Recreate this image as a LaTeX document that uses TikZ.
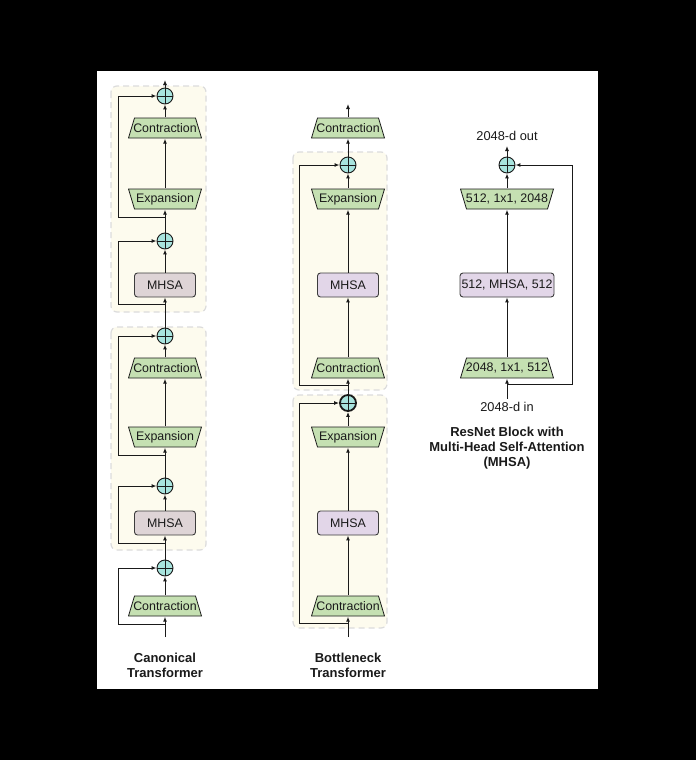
\documentclass[tikz,border=0pt]{standalone}
\usepackage{fontspec}
\setmainfont{Liberation Sans}
\usetikzlibrary{arrows.meta}
\definecolor{trapgreen}{RGB}{197,224,178}
\definecolor{mhsaL}{RGB}{222,212,214}
\definecolor{mhsaM}{RGB}{226,214,232}
\definecolor{pluscyan}{RGB}{168,228,222}
\definecolor{blockfill}{RGB}{253,251,238}
\definecolor{blockdash}{RGB}{220,220,220}
\definecolor{ink}{RGB}{26,26,26}
\begin{document}
\begin{tikzpicture}[x=1pt,y=-1pt,
  txt/.style={font=\fontsize{12.4}{14}\selectfont, text=ink},
  contr/.style={txt, rectangle, minimum width=#1, minimum height=21, inner sep=0pt,
    path picture={\filldraw[fill=trapgreen, draw=ink, line width=0.8pt]
      ([xshift=0.5pt,yshift=0.5pt]path picture bounding box.south west) --
      ([xshift=-0.5pt,yshift=0.5pt]path picture bounding box.south east) --
      ([xshift=-6.5pt,yshift=-0.5pt]path picture bounding box.north east) --
      ([xshift=6.5pt,yshift=-0.5pt]path picture bounding box.north west) -- cycle;}},
  contr/.default=74,
  expan/.style={txt, rectangle, minimum width=#1, minimum height=21, inner sep=0pt,
    path picture={\filldraw[fill=trapgreen, draw=ink, line width=0.8pt]
      ([xshift=6.5pt,yshift=0.5pt]path picture bounding box.south west) --
      ([xshift=-6.5pt,yshift=0.5pt]path picture bounding box.south east) --
      ([xshift=-0.5pt,yshift=-0.5pt]path picture bounding box.north east) --
      ([xshift=0.5pt,yshift=-0.5pt]path picture bounding box.north west) -- cycle;}},
  expan/.default=74,
  mhsabox/.style={txt, rectangle, rounded corners=3pt, draw=ink!85, line width=0.9pt,
    minimum width=#1, minimum height=24, inner sep=0pt},
  mhsabox/.default=61,
  plus/.style={circle, draw=ink, line width=0.9pt, fill=pluscyan, minimum size=16pt, inner sep=0pt,
    path picture={\draw[ink, line width=0.8pt]
      (path picture bounding box.north) -- (path picture bounding box.south)
      (path picture bounding box.west) -- (path picture bounding box.east);}},
  arr/.style={draw=ink, line width=1pt, -{Latex[length=5pt,width=4pt]}},
  block/.style={draw=blockdash, fill=blockfill, line width=1.2pt, dash pattern=on 6pt off 4pt, rounded corners=6pt},
  captext/.style={font=\bfseries\fontsize{13}{15}\selectfont, align=center, text=ink},
  lab/.style={font=\fontsize{12.8}{14}\selectfont, text=ink}
]
\useasboundingbox (0,0) rectangle (696,760);
\fill[black] (0,0) rectangle (696,760);
\fill[white] (97,71) rectangle (598,689);

% dashed blocks
\path[block] (111,86) rectangle (206,312);
\path[block] (111,327) rectangle (206,550);
\path[block] (293,152) rectangle (387,390);
\path[block] (293,395) rectangle (387,628);

% ---------- Canonical Transformer ----------
\node[plus] (p1) at (165,96) {};
\node[contr] (c1) at (165,128) {Contraction};
\node[expan] (e1) at (165,199) {Expansion};
\node[plus] (p2) at (165,241) {};
\node[mhsabox, fill=mhsaL] (m1) at (165,285) {MHSA};
\node[plus] (p3) at (165,336) {};
\node[contr] (c2) at (165,368) {Contraction};
\node[expan] (e2) at (165,437) {Expansion};
\node[plus] (p4) at (165,486) {};
\node[mhsabox, fill=mhsaL] (m2) at (165,523) {MHSA};
\node[plus] (p5) at (165,568) {};
\node[contr] (c3) at (165,606) {Contraction};
\coordinate (inL) at (165,637);
\coordinate (outL) at (165,80);
\coordinate (jL1) at (165,217); \coordinate (kL1) at (118,217);
\coordinate (jL2) at (165,304); \coordinate (kL2) at (118,304);
\coordinate (jL3) at (165,455); \coordinate (kL3) at (118,455);
\coordinate (jL4) at (165,543); \coordinate (kL4) at (118,543);
\coordinate (jL5) at (165,624); \coordinate (kL5) at (118,624);

\draw[arr] (inL) -- (c3);
\draw[arr] (c3) -- (p5);
\draw[arr] (p5) -- (m2);
\draw[arr] (m2) -- (p4);
\draw[arr] (p4) -- (e2);
\draw[arr] (e2) -- (c2);
\draw[arr] (c2) -- (p3);
\draw[arr] (p3) -- (m1);
\draw[arr] (m1) -- (p2);
\draw[arr] (p2) -- (e1);
\draw[arr] (e1) -- (c1);
\draw[arr] (c1) -- (p1);
\draw[arr] (p1) -- (outL);
\draw[arr] (jL1) -- (kL1) |- (p1);
\draw[arr] (jL2) -- (kL2) |- (p2);
\draw[arr] (jL3) -- (kL3) |- (p3);
\draw[arr] (jL4) -- (kL4) |- (p4);
\draw[arr] (jL5) -- (kL5) |- (p5);
\node[captext] (capL) at (165,665) {Canonical\\Transformer};

% ---------- Bottleneck Transformer ----------
\node[contr] (mc1) at (348,128) {Contraction};
\node[plus] (mp1) at (348,165) {};
\node[expan] (me1) at (348,199) {Expansion};
\node[mhsabox, fill=mhsaM] (mm1) at (348,285) {MHSA};
\node[contr] (mc2) at (348,368) {Contraction};
\node[plus, line width=1.8pt] (mp2) at (348,403) {};
\node[expan] (me2) at (348,437) {Expansion};
\node[mhsabox, fill=mhsaM] (mm2) at (348,523) {MHSA};
\node[contr] (mc3) at (348,606) {Contraction};
\coordinate (inM) at (348,637);
\coordinate (outM) at (348,104);
\coordinate (jM1) at (348,385); \coordinate (kM1) at (299,385);
\coordinate (jM2) at (348,623); \coordinate (kM2) at (299,623);

\draw[arr] (inM) -- (mc3);
\draw[arr] (mc3) -- (mm2);
\draw[arr] (mm2) -- (me2);
\draw[arr] (me2) -- (mp2);
\draw[arr] (mp2) -- (mc2);
\draw[arr] (mc2) -- (mm1);
\draw[arr] (mm1) -- (me1);
\draw[arr] (me1) -- (mp1);
\draw[arr] (mp1) -- (mc1);
\draw[arr] (mc1) -- (outM);
\draw[arr] (jM1) -- (kM1) |- (mp1);
\draw[arr] (jM2) -- (kM2) |- (mp2);
\node[captext] (capM) at (348,665) {Bottleneck\\Transformer};

% ---------- ResNet block with MHSA ----------
\node[lab] (rout) at (507,136) {2048-d out};
\node[plus] (rp) at (507,165) {};
\node[expan=94] (re) at (507,199) {512, 1x1, 2048};
\node[mhsabox=94, fill=mhsaM] (rm) at (507,285) {512, MHSA, 512};
\node[contr=94] (rc) at (507,368) {2048, 1x1, 512};
\node[lab] (rin) at (507,407) {2048-d in};
\coordinate (outR) at (507,146);
\coordinate (jR) at (507,384); \coordinate (kR) at (572,384);

\draw[arr] (rin) -- (rc);
\draw[arr] (rc) -- (rm);
\draw[arr] (rm) -- (re);
\draw[arr] (re) -- (rp);
\draw[arr] (rp) -- (outR);
\draw[arr] (jR) -- (kR) |- (rp);
\node[captext] (capR) at (507,448) {ResNet Block with\\Multi-Head Self-Attention\\(MHSA)};
\end{tikzpicture}
\end{document}
